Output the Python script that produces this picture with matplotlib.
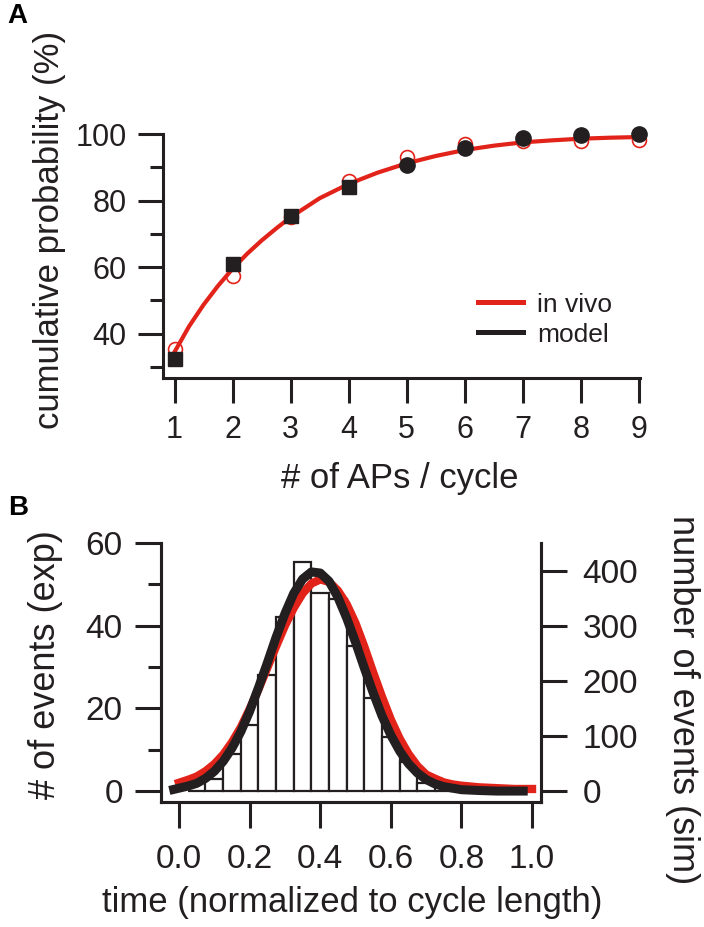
import matplotlib
matplotlib.use("Agg")
import matplotlib.pyplot as plt
from matplotlib.lines import Line2D
from matplotlib.ticker import MultipleLocator

plt.rcParams["font.family"] = ["Liberation Sans", "DejaVu Sans"]

INK = "#231f20"
RED = "#e2231a"

# ---------------------------------------------------------------------------
# Panel A data: cumulative probability of APs per cycle
# ---------------------------------------------------------------------------
aps = [1, 2, 3, 4, 5, 6, 7, 8, 9]
model_cum = [32.5, 60.8, 75.3, 84.2, 90.8, 95.8, 98.8, 99.7, 100.0]
vivo_cum = [35.4, 57.4, 75.0, 86.0, 93.0, 97.0, 97.8, 98.0, 98.2]

fit_x = [1, 1.25, 1.5, 1.75, 2, 2.25, 2.5, 2.75, 3, 3.5, 4, 4.5, 5, 5.5, 6, 6.5, 7, 7.5, 8, 8.5, 9]
fit_y = [34.5, 42.2, 48.7, 54.4, 59.5, 64.0, 68.0, 71.6, 75.0, 80.7, 85.0, 88.4, 91.2, 93.4, 95.2, 96.5, 97.5, 98.1, 98.6, 98.9, 99.1]

# ---------------------------------------------------------------------------
# Panel B data: event timing histogram (exp) + fits
# ---------------------------------------------------------------------------
bin_centers = [0.05, 0.10, 0.15, 0.20, 0.25, 0.30, 0.35, 0.40, 0.45, 0.50,
               0.55, 0.60, 0.65, 0.70, 0.75]
exp_counts = [0, 3, 9, 16, 28, 42, 55.5, 48, 46.5, 35, 22.5, 13, 7, 2, 0]

vivo_fit_x = [0.0, 0.025, 0.05, 0.075, 0.1, 0.125, 0.15, 0.175, 0.2, 0.225,
              0.25, 0.275, 0.3, 0.325, 0.35, 0.375, 0.4, 0.425, 0.45, 0.475,
              0.5, 0.525, 0.55, 0.575, 0.6, 0.625, 0.65, 0.675, 0.7, 0.725,
              0.75, 0.775, 0.8, 0.85, 0.9, 0.95, 1.0]
vivo_fit_y = [2.0, 2.7, 3.5, 4.8, 6.5, 8.8, 11.8, 15.4, 19.8, 24.6,
              29.8, 35.0, 40.0, 44.3, 47.8, 50.2, 51.2, 50.6, 48.5, 45.2,
              40.6, 34.9, 28.7, 22.8, 17.3, 12.7, 9.0, 6.1, 4.0, 3.0,
              2.1, 1.6, 1.3, 0.9, 0.7, 0.5, 0.5]

sim_fit_x = [-0.015, 0.025, 0.05, 0.075, 0.1, 0.125, 0.15, 0.175, 0.2, 0.225,
             0.25, 0.275, 0.3, 0.325, 0.35, 0.375, 0.4, 0.425, 0.45, 0.475,
             0.5, 0.525, 0.55, 0.575, 0.6, 0.625, 0.65, 0.675, 0.7, 0.725,
             0.75, 0.8, 0.85, 0.9, 0.975]
sim_fit_y = [3, 9, 14, 23, 36, 54, 78, 108, 145, 188,
             233, 280, 323, 360, 386, 399, 397, 382, 353, 315,
             271, 224, 179, 137, 102, 73, 50, 33, 21, 13,
             8, 2.5, 1, 0, 0]


def style_axis(ax):
    for side in ("left", "right", "bottom", "top"):
        ax.spines[side].set_linewidth(2.2)
        ax.spines[side].set_color(INK)
    ax.tick_params(which="both", width=2.2, color=INK, labelcolor=INK)


fig = plt.figure(figsize=(7.04, 9.27), dpi=100)

# --- Panel A ---------------------------------------------------------------
axA = fig.add_axes([0.2315, 0.592, 0.6775, 0.2634])
style_axis(axA)
axA.spines["top"].set_visible(False)
axA.spines["right"].set_visible(False)

axA.plot(fit_x, fit_y, color=RED, lw=3.0, zorder=2)
axA.plot(aps, vivo_cum, "o", mfc="none", mec=RED, mew=1.2, ms=10, zorder=3, clip_on=False)
axA.plot(aps[:4], model_cum[:4], "s", color=INK, ms=10, zorder=4, clip_on=False)
axA.plot(aps[4:], model_cum[4:], "o", color=INK, ms=11, zorder=4, clip_on=False)

axA.set_xlim(0.8, 9.02)
axA.set_ylim(26.6, 100)
axA.set_xticks(aps)
axA.set_yticks([40, 60, 80, 100])
axA.yaxis.set_minor_locator(MultipleLocator(10))
axA.tick_params(axis="y", which="major", length=18, pad=8, labelsize=22)
axA.tick_params(axis="y", which="minor", length=9.5)
axA.tick_params(axis="x", which="major", length=18, pad=8.5, labelsize=22)

axA.set_ylabel("cumulative probability (%)", fontsize=25, color=INK)
axA.yaxis.set_label_coords(-0.203, 0.607)
axA.set_xlabel("# of APs / cycle", fontsize=25, color=INK, va="top")
axA.xaxis.set_label_coords(0.497, -0.344)

handles = [Line2D([], [], color=RED, lw=3.6), Line2D([], [], color=INK, lw=3.6)]
axA.legend(handles, ["in vivo", "model"], frameon=False, fontsize=19,
           loc="center left", bbox_to_anchor=(0.66, 0.24), borderpad=0,
           borderaxespad=0, handlelength=1.7, handletextpad=0.55,
           labelspacing=0.22, labelcolor=INK)

# --- Panel B ---------------------------------------------------------------
axB = fig.add_axes([0.2287, 0.1348, 0.5398, 0.2794])
style_axis(axB)
axB.spines["top"].set_visible(False)

axB.bar(bin_centers, exp_counts, width=0.05, facecolor="white",
        edgecolor=INK, linewidth=1.6, zorder=1)
axB.plot(vivo_fit_x, vivo_fit_y, color=RED, lw=6.0, zorder=2)

axB.set_xlim(-0.051, 1.0255)
axB.set_ylim(-2.66, 60)
axB.set_xticks([0.0, 0.2, 0.4, 0.6, 0.8, 1.0])
axB.set_xticklabels(["0.0", "0.2", "0.4", "0.6", "0.8", "1.0"])
axB.set_yticks([0, 20, 40, 60])
axB.yaxis.set_minor_locator(MultipleLocator(10))
axB.tick_params(axis="y", which="major", length=18.5, pad=9, labelsize=24)
axB.tick_params(axis="y", which="minor", length=9.5)
axB.tick_params(axis="x", which="major", length=19, pad=11.5, labelsize=24)

axB.set_ylabel("# of events (exp)", fontsize=26, color=INK)
axB.yaxis.set_label_coords(-0.258, 0.529)
axB.set_xlabel("time (normalized to cycle length)", fontsize=25, color=INK, va="top")
axB.xaxis.set_label_coords(0.503, -0.324)

axB2 = axB.twinx()
style_axis(axB2)
axB2.spines["top"].set_visible(False)
axB2.plot(sim_fit_x, sim_fit_y, color=INK, lw=6.5, zorder=3)
axB2.set_ylim(-20, 451.6)
axB2.set_yticks([0, 100, 200, 300, 400])
axB2.tick_params(axis="y", which="major", length=19, pad=11, labelsize=24)
axB2.set_ylabel("number of events (sim)", fontsize=26, color=INK,
                rotation=270, va="bottom")
axB2.yaxis.set_label_coords(1.326, 0.394)

fig.text(0.011, 0.997, "A", fontsize=20, fontweight="bold", va="top", color="black")
fig.text(0.011, 0.466, "B", fontsize=20, fontweight="bold", va="top", color="black")

fig.savefig("out.png", dpi=100)
